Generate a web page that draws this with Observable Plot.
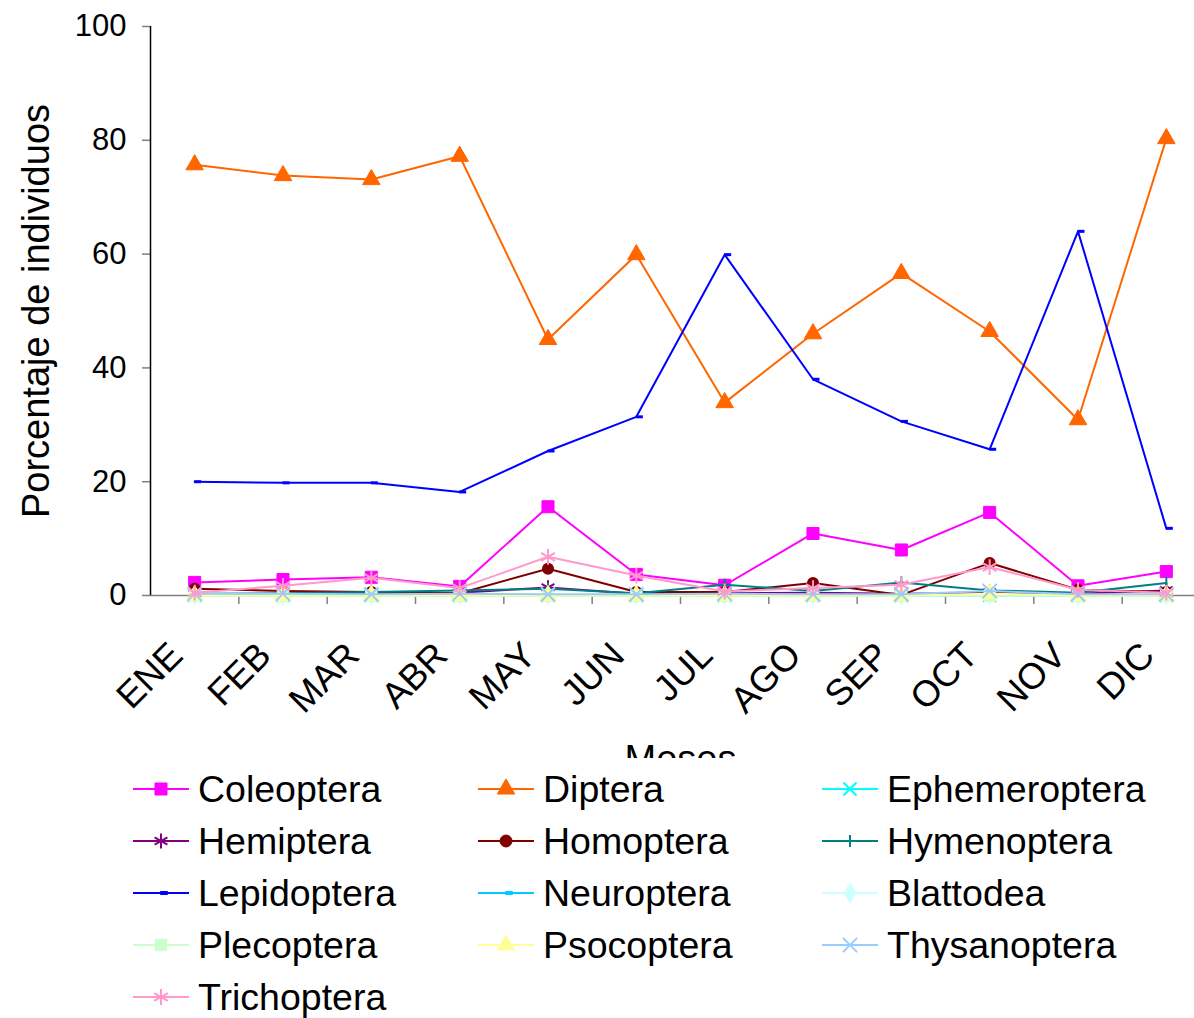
<!DOCTYPE html>
<html>
<head>
<meta charset="utf-8">
<script src="https://cdn.jsdelivr.net/npm/d3@7"></script>
<script src="https://cdn.jsdelivr.net/npm/@observablehq/plot@0.6"></script>
<style>
  html, body { margin: 0; padding: 0; background: #fff; }
  body { width: 1194px; height: 1018px; overflow: hidden; font-family: "Liberation Sans", Arial, sans-serif; }
  #chart { height: 758px; overflow: hidden; }
  #legend { position: relative; height: 260px; }
  .item { position: absolute; display: flex; align-items: center; height: 52px; font-size: 37.5px; color: #000; white-space: nowrap; }
  .item svg { margin-right: 9px; flex: none; }
</style>
</head>
<body>
<div id="chart"></div>
<div id="legend"></div>
<script>
const months = ["ENE","FEB","MAR","ABR","MAY","JUN","JUL","AGO","SEP","OCT","NOV","DIC"];
const yTicks = [0, 20, 40, 60, 80, 100];

const coleoptera    = [2.3, 2.8, 3.2, 1.6, 15.6, 3.7, 1.8, 10.9, 8.0, 14.6, 1.7, 4.2];
const diptera       = [75.7, 73.8, 73.1, 77.2, 45.0, 59.9, 33.9, 46.0, 56.6, 46.4, 30.9, 80.3];
const ephemeroptera = [0, 0, 0, 0, 0, 0, 0, 0, 0, 0, 0, 0];
const hemiptera     = [0.2, 0.2, 0.3, 0.5, 1.4, 0.3, 0.4, 0.5, 0.3, 0.5, 0.3, 0.9];
const homoptera     = [1.2, 0.8, 0.6, 0.4, 4.7, 0.6, 0.6, 2.2, 0.1, 5.7, 1.0, 0.6];
const hymenoptera   = [0.3, 0.4, 0.6, 0.9, 1.2, 0.4, 1.9, 0.8, 2.3, 0.9, 0.5, 2.2];
const lepidoptera   = [20.0, 19.8, 19.8, 18.2, 25.4, 31.4, 59.9, 38.0, 30.6, 25.7, 64.0, 11.8];
const neuroptera    = [0.1, 0.1, 0.1, 0.1, 0.1, 0.1, 0.1, 0.1, 0.1, 0.1, 0.1, 0.1];
const blattodea     = [0, 0, 0, 0, 0, 0, 0, 0, 0, 0, 0, 0];
const plecoptera    = [0, 0, 0, 0, 0, 0, 0, 0, 0, 0, 0, 0];
const psocoptera    = [0, 0, 0, 0, 0, 0, 0, 0, 0, 0.3, 0, 0];
const thysanoptera  = [0.3, 0.3, 0.2, 0.3, 0.2, 0.2, 0.3, 0.2, 0.2, 0.8, 0.2, 0.2];
const trichoptera   = [0.5, 1.7, 3.1, 1.3, 6.8, 3.5, 0.7, 1.3, 1.9, 5.0, 1.0, 0.5];

// custom marker: short horizontal dash (Excel "-" marker)
const dash = {draw(ctx, size) { const r = Math.sqrt(size / Math.PI); ctx.moveTo(-r * 0.1, -1.5); ctx.lineTo(r * 1.3, -1.5); ctx.lineTo(r * 1.3, 1.5); ctx.lineTo(-r * 0.1, 1.5); ctx.closePath(); }};
const vbar = {draw(ctx, size) { const r = Math.sqrt(size / Math.PI); ctx.moveTo(0, -r); ctx.lineTo(0, r); }};

const series = [
  {name: "Coleoptera",    values: coleoptera,    color: "#FF00FF", symbol: "square",   filled: true,  r: 6.8},
  {name: "Diptera",       values: diptera,       color: "#FF6600", symbol: "triangle", filled: true,  r: 6.5},
  {name: "Ephemeroptera", values: ephemeroptera, color: "#00FFFF", symbol: "times",    filled: false, r: 6},
  {name: "Hemiptera",     values: hemiptera,     color: "#800080", symbol: "asterisk", filled: false, r: 7},
  {name: "Homoptera",     values: homoptera,     color: "#800000", symbol: "circle",   filled: true,  r: 6},
  {name: "Hymenoptera",   values: hymenoptera,   color: "#008080", symbol: vbar,       filled: false, r: 6},
  {name: "Lepidoptera",   values: lepidoptera,   color: "#0000FF", symbol: dash,       filled: true,  r: 5},
  {name: "Neuroptera",    values: neuroptera,    color: "#00CCFF", symbol: dash,       filled: true,  r: 5},
  {name: "Blattodea",     values: blattodea,     color: "#CCFFFF", symbol: "diamond",  filled: true,  r: 6},
  {name: "Plecoptera",    values: plecoptera,    color: "#CCFFCC", symbol: "square",   filled: true,  r: 6.5},
  {name: "Psocoptera",    values: psocoptera,    color: "#FFFF99", symbol: "triangle", filled: true,  r: 6.5},
  {name: "Thysanoptera",  values: thysanoptera,  color: "#99CCFF", symbol: "times",    filled: false, r: 6.5},
  {name: "Trichoptera",   values: trichoptera,   color: "#FF99CC", symbol: "asterisk", filled: false, r: 7.5}
];

const boundaries = months.slice(1).map((m, i) => i + 0.5);

const marks = [
  Plot.ruleY([0], {x1: -0.5, x2: 11.5, stroke: "#808080", strokeWidth: 1.5}),
  Plot.axisX({ticks: boundaries, tickSize: 9, tickFormat: () => "", label: null, stroke: "#808080", strokeWidth: 1.5}),
  Plot.axisY({ticks: yTicks, tickSize: 8, tickPadding: 16, fontSize: 31, label: null, stroke: "#808080", strokeWidth: 1.5, fill: "#000", tickFormat: d => String(d)}),
  Plot.ruleX([-0.5], {y1: 0, y2: 100, stroke: "#000", strokeWidth: 1.5})
];

for (const s of series) {
  const rows = s.values.map((v, i) => ({i, v}));
  marks.push(Plot.line(rows, {x: "i", y: "v", stroke: s.color, strokeWidth: 2}));
  marks.push(Plot.dot(rows, {
    x: "i", y: "v", symbol: s.symbol, r: s.r,
    fill: s.filled ? s.color : "none",
    stroke: s.filled ? (s.symbol === "triangle" || s.symbol === "square" ? s.color : "none") : s.color,
    strokeWidth: s.filled ? 1 : 2
  }));
}

marks.push(
  Plot.text(months, {x: (d, i) => i, y: () => 0, rotate: -45, textAnchor: "end", lineAnchor: "bottom", dx: -10, dy: 62, fontSize: 36.5, fill: "#000"}),
  Plot.text(["Porcentaje de individuos"], {frameAnchor: "left", textAnchor: "middle", rotate: -90, dx: -114, fontSize: 38, fill: "#000"}),
  Plot.text(["Meses"], {frameAnchor: "bottom", textAnchor: "middle", lineAnchor: "top", dx: 8, dy: 150, fontSize: 38, fill: "#000"})
);

const chart = Plot.plot({
  width: 1194,
  height: 758,
  marginLeft: 150,
  marginRight: 0,
  marginTop: 26,
  marginBottom: 163,
  style: {fontFamily: "'Liberation Sans', Arial, sans-serif", overflow: "hidden", background: "#fff"},
  x: {type: "linear", domain: [-0.5, 11.5], range: [150, 1210], axis: null, label: null},
  y: {domain: [0, 100], range: [595, 26], axis: null, label: null},
  marks
});
document.getElementById("chart").appendChild(chart);

// Legend
const legend = document.getElementById("legend");
const colX = [133, 478, 822];
series.forEach((s, k) => {
  const row = Math.floor(k / 3), col = k % 3;
  const item = document.createElement("div");
  item.className = "item";
  item.style.left = colX[col] + "px";
  item.style.top = (5 + row * 52) + "px";
  const ns = "http://www.w3.org/2000/svg";
  const svg = document.createElementNS(ns, "svg");
  svg.setAttribute("width", 56); svg.setAttribute("height", 24);
  const line = document.createElementNS(ns, "line");
  line.setAttribute("x1", 0); line.setAttribute("x2", 56); line.setAttribute("y1", 12); line.setAttribute("y2", 12);
  line.setAttribute("stroke", s.color); line.setAttribute("stroke-width", 2);
  svg.appendChild(line);
  const symMap = {square: d3.symbolSquare, triangle: d3.symbolTriangle, circle: d3.symbolCircle, diamond: d3.symbolDiamond, times: d3.symbolTimes, asterisk: d3.symbolAsterisk};
  const type = typeof s.symbol === "string" ? symMap[s.symbol] : s.symbol;
  const path = document.createElementNS(ns, "path");
  path.setAttribute("d", d3.symbol(type, Math.PI * s.r * s.r)());
  path.setAttribute("transform", "translate(28,12)");
  path.setAttribute("fill", s.filled ? s.color : "none");
  path.setAttribute("stroke", s.color);
  path.setAttribute("stroke-width", s.filled ? 1 : 2);
  svg.appendChild(path);
  item.appendChild(svg);
  const span = document.createElement("span");
  span.textContent = s.name;
  item.appendChild(span);
  legend.appendChild(item);
});
</script>
</body>
</html>
